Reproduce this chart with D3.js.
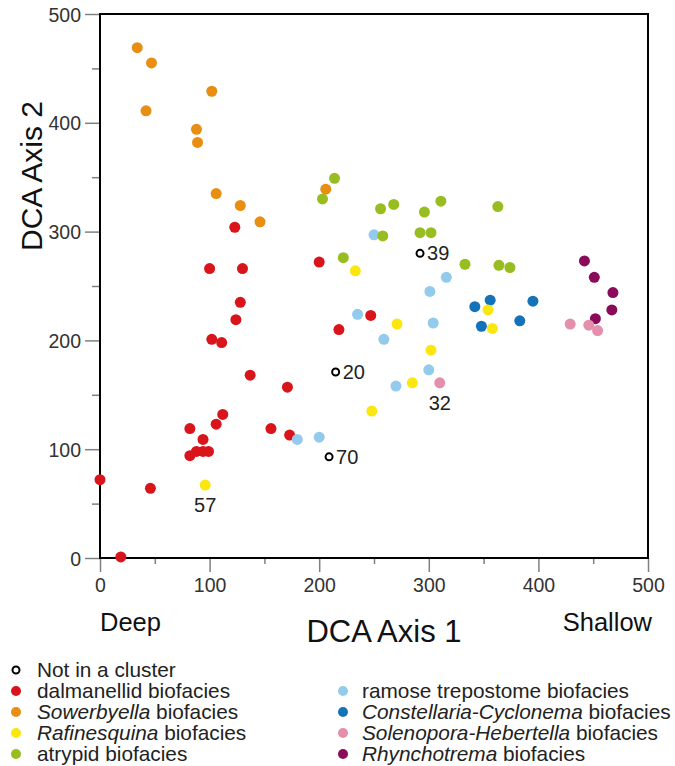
<!DOCTYPE html>
<html>
<head>
<meta charset="utf-8">
<script src="https://cdn.jsdelivr.net/npm/d3@7"></script>
<style>
  html, body { margin: 0; padding: 0; background: #fff; }
  svg { display: block; font-family: "Liberation Sans", Arial, Helvetica, sans-serif; }
</style>
</head>
<body>
<svg id="chart" width="675" height="766"></svg>
<script>
// ---- data (DCA Axis 1, DCA Axis 2) ----
const notInCluster = [[292, 280, "39"], [215, 171, "20"], [209, 93, "70"]];
const dalmanellid = [[123,304],[100,266],[130,266],[128,235],[124,219],[102,201],[111,198],[137,168],[112,132],[106,123],[156,119],[82,119],[94,109],[82,94],[88,98],[94,98],[99,98],[0,72],[46,64],[19,1],[200,272],[247,223],[218,210],[171,157],[173,113]];
const sowerbyella = [[34,469],[47,455],[102,429],[42,411],[88,394],[89,382],[106,335],[128,324],[146,309],[206,339]];
const rafinesquina = [[96,67,"57"],[233,264],[271,215],[302,191],[285,161],[248,135],[354,228],[358,211]];
const atrypid = [[214,349],[203,330],[256,321],[268,325],[311,328],[296,318],[258,296],[292,299],[302,299],[333,270],[222,276],[363,323],[364,269],[374,267]];
const ramose = [[250,297],[316,258],[301,245],[235,224],[304,216],[259,201],[300,173],[270,158],[180,109],[200,111]];
const constellaria = [[342,231],[356,237],[395,236],[348,213],[383,218]];
const solenopora = [[310,161,"32"],[429,215],[446,214],[454,209]];
const rhynchotrema = [[442,273],[451,258],[468,244],[467,228],[452,220]];

const majorTicks = [0, 100, 200, 300, 400, 500];
const minorTicks = [50, 150, 250, 350, 450];

const groups = [
  { name: "dalmanellid", data: dalmanellid, color: "#d9141b" },
  { name: "sowerbyella", data: sowerbyella, color: "#e88e13" },
  { name: "ramose", data: ramose, color: "#93cbec" },
  { name: "atrypid", data: atrypid, color: "#98bd20" },
  { name: "constellaria", data: constellaria, color: "#1473b8" },
  { name: "rafinesquina", data: rafinesquina, color: "#fbe60f" },
  { name: "rhynchotrema", data: rhynchotrema, color: "#8a0b5a" },
  { name: "solenopora", data: solenopora, color: "#e48fab" }
];

const legendLeft = [
  { parts: [["Not in a cluster", false]], open: true },
  { parts: [["dalmanellid biofacies", false]], color: "#d9141b" },
  { parts: [["Sowerbyella", true], [" biofacies", false]], color: "#e88e13" },
  { parts: [["Rafinesquina", true], [" biofacies", false]], color: "#fbe60f" },
  { parts: [["atrypid biofacies", false]], color: "#98bd20" }
];
const legendRight = [
  { parts: [["ramose trepostome biofacies", false]], color: "#93cbec" },
  { parts: [["Constellaria-Cyclonema", true], [" biofacies", false]], color: "#1473b8" },
  { parts: [["Solenopora-Hebertella", true], [" biofacies", false]], color: "#e48fab" },
  { parts: [["Rhynchotrema", true], [" biofacies", false]], color: "#8a0b5a" }
];

// ---- layout ----
const svg = d3.select("#chart");
const L = 100, R = 648, T = 14, B = 558;
const x = d3.scaleLinear().domain([0, 500]).range([L, R]);
const y = d3.scaleLinear().domain([0, 500]).range([B, T]);

// axes ticks
const tickColor = "#808080";
const gx = svg.append("g").attr("transform", `translate(0,${B})`);
gx.call(d3.axisBottom(x).tickValues(majorTicks).tickSize(14).tickPadding(6).tickFormat(d3.format("d")));
const gxm = svg.append("g").attr("transform", `translate(0,${B})`);
gxm.call(d3.axisBottom(x).tickValues(minorTicks).tickSize(6).tickFormat(""));
const gy = svg.append("g").attr("transform", `translate(${L},0)`);
gy.call(d3.axisLeft(y).tickValues(majorTicks).tickSize(15).tickPadding(4).tickFormat(d3.format("d")));
const gym = svg.append("g").attr("transform", `translate(${L},0)`);
gym.call(d3.axisLeft(y).tickValues(minorTicks).tickSize(8).tickFormat(""));
[gx, gxm, gy, gym].forEach(g => {
  g.select(".domain").remove();
  g.selectAll(".tick line").attr("stroke", tickColor).attr("stroke-width", 1.5);
  g.selectAll(".tick text").attr("fill", "#333").attr("font-size", 19.5)
    .attr("font-family", "'Liberation Sans', Arial, Helvetica, sans-serif");
});
gy.selectAll(".tick text").attr("dy", "0.36em");

// frame
svg.append("rect").attr("x", L).attr("y", T).attr("width", R - L).attr("height", B - T)
  .attr("fill", "none").attr("stroke", "#000").attr("stroke-width", 2);

// points
const pr = 5.5;
groups.forEach(g => {
  svg.append("g").selectAll("circle").data(g.data).join("circle")
    .attr("cx", d => x(d[0])).attr("cy", d => y(d[1])).attr("r", pr)
    .attr("fill", g.color);
});
svg.append("g").selectAll("circle").data(notInCluster).join("circle")
  .attr("cx", d => x(d[0])).attr("cy", d => y(d[1])).attr("r", 3.5)
  .attr("fill", "#fff").attr("stroke", "#000").attr("stroke-width", 2);

// point labels
svg.append("g").selectAll("text").data(notInCluster).join("text")
  .attr("x", d => x(d[0]) + 7).attr("y", d => y(d[1]) + 7)
  .attr("font-size", 20).attr("fill", "#222").text(d => d[2]);
const belowLabels = [rafinesquina[0], solenopora[0]];
svg.append("g").selectAll("text").data(belowLabels).join("text")
  .attr("x", d => x(d[0])).attr("y", d => y(d[1]) + 27)
  .attr("text-anchor", "middle").attr("font-size", 20).attr("fill", "#222").text(d => d[2]);

// axis titles
svg.append("text").attr("transform", "translate(42,176) rotate(-90)")
  .attr("text-anchor", "middle").attr("font-size", 30).attr("fill", "#111").text("DCA Axis 2");
svg.append("text").attr("x", 384).attr("y", 642)
  .attr("text-anchor", "middle").attr("font-size", 31).attr("fill", "#111").text("DCA Axis 1");
svg.append("text").attr("x", 100).attr("y", 631).attr("font-size", 25.5).attr("fill", "#111").text("Deep");
svg.append("text").attr("x", 652).attr("y", 631).attr("text-anchor", "end").attr("font-size", 25.5).attr("fill", "#111").text("Shallow");

// legend
function drawLegend(items, mx, tx, y0) {
  items.forEach((it, i) => {
    const cy = y0 + i * 21;
    if (it.open) {
      svg.append("circle").attr("cx", mx).attr("cy", cy).attr("r", 3.5)
        .attr("fill", "#fff").attr("stroke", "#000").attr("stroke-width", 2);
    } else {
      svg.append("circle").attr("cx", mx).attr("cy", cy).attr("r", 5).attr("fill", it.color);
    }
    const t = svg.append("text").attr("x", tx).attr("y", cy + 7).attr("font-size", 20.8).attr("fill", "#222");
    it.parts.forEach(p => {
      t.append("tspan").attr("font-style", p[1] ? "italic" : "normal").text(p[0]);
    });
  });
}
drawLegend(legendLeft, 16, 37, 670);
drawLegend(legendRight, 343, 362, 691);
</script>
</body>
</html>
